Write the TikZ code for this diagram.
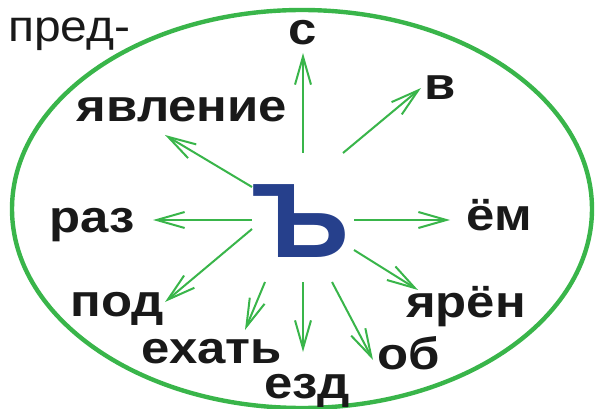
\documentclass[tikz,border=0pt]{standalone}
\usepackage{fontspec}
\setmainfont{Liberation Sans}
\usetikzlibrary{arrows.meta}
\definecolor{ringgreen}{RGB}{57,181,74}
\definecolor{signblue}{RGB}{38,64,140}
\tikzset{
  ring/.style={draw=ringgreen,line width=4.4pt},
  ray/.style={draw=ringgreen,line width=2pt,-{Straight Barb[length=28pt,width=16pt,line width=2pt]}},
  word/.style={font=\bfseries\fontsize{45}{45}\selectfont,text=black!90,inner sep=0pt,anchor=base,xscale=1.13,transform shape},
  plain/.style={font=\fontsize{44}{44}\selectfont,text=black!90,inner sep=0pt,anchor=base west,xscale=1.09,transform shape},
}
\begin{document}
\begin{tikzpicture}[x=1pt,y=-1pt]
\useasboundingbox (0,0) rectangle (595,409);
\draw[ring] (302,209) ellipse [x radius=290, y radius=199];
\node[plain] (pred) at (8,42) {пред-};
\node[inner sep=0pt,text=signblue,font=\bfseries\fontsize{106}{106}\selectfont,anchor=base,xscale=1.05,transform shape] (sign) at (301,258) {Ъ};
\node[word] (ws) at (303,45) {с};
\node[word] (wv) at (440,100) {в};
\node[word] (wyav) at (182,122) {явление};
\node[word] (wraz) at (92,233) {раз};
\node[word] (wem) at (499,230) {ём};
\node[word] (wpod) at (117,316) {под};
\node[word] (wyar) at (466,317) {ярён};
\node[word] (wex) at (212,363) {ехать};
\node[word] (wob) at (409,369) {об};
\node[word] (wezd) at (307,398) {езд};
% ray start and tip points
\coordinate (s1) at (303,153); \coordinate (t1) at (303,53);
\coordinate (s2) at (343,153); \coordinate (t2) at (421,88);
\coordinate (s3) at (252,187); \coordinate (t3) at (165,135);
\coordinate (s4) at (252,220); \coordinate (t4) at (153,220);
\coordinate (s5) at (252,229); \coordinate (t5) at (165,302);
\coordinate (s6) at (265,282); \coordinate (t6) at (245,330);
\coordinate (s7) at (303,282); \coordinate (t7) at (303,352);
\coordinate (s8) at (332,282); \coordinate (t8) at (373,360);
\coordinate (s9) at (354,250); \coordinate (t9) at (418,290);
\coordinate (s10) at (354,220); \coordinate (t10) at (450,220);
\foreach \i in {1,...,10} \draw[ray] (s\i) -- (t\i);
\end{tikzpicture}
\end{document}
